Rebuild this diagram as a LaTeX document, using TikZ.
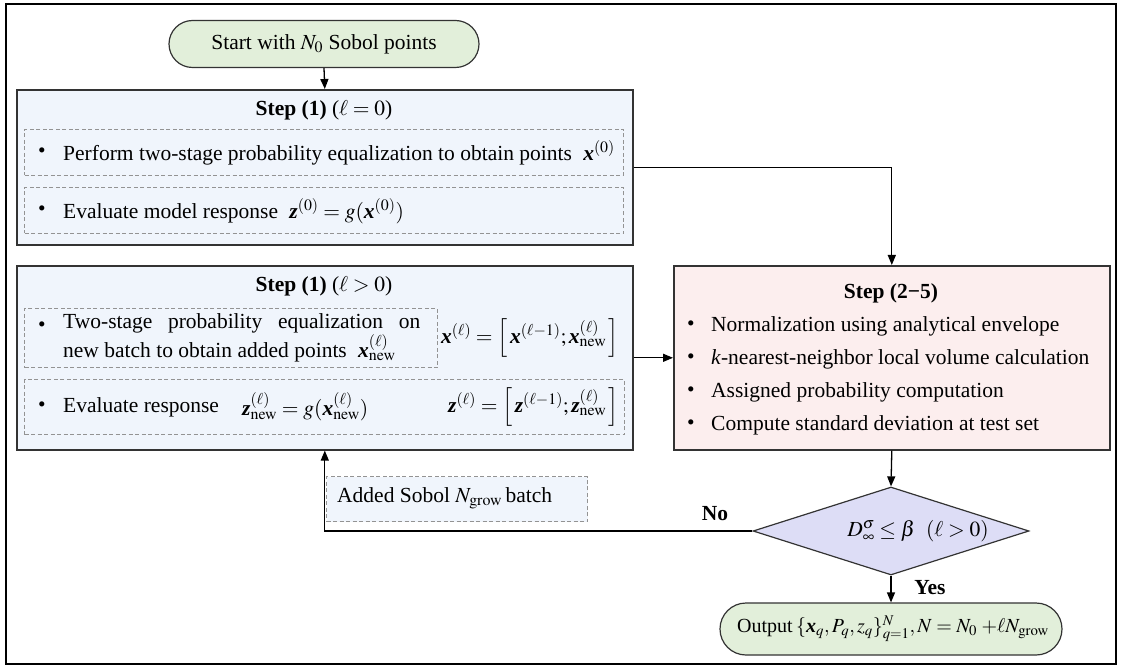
\documentclass[tikz,border=0pt]{standalone}
\usepackage{amsmath}
\usepackage{mathptmx}
\usepackage[no-math]{fontspec}
\setmainfont{Liberation Serif}
\usetikzlibrary{arrows.meta,shapes.geometric,shapes.misc}
\definecolor{cgreen}{HTML}{E2EFDA}
\definecolor{cblue}{HTML}{F0F5FC}
\definecolor{cpink}{HTML}{FCEEEE}
\definecolor{clav}{HTML}{DDDDF6}
\definecolor{cedge}{HTML}{333333}
\newcommand{\bx}{\text{\bfseries\itshape x}}
\newcommand{\bz}{\text{\bfseries\itshape z}}
\newcommand{\nw}{\mathrm{new}}
\newcommand{\fs}{\fontsize{21.5}{26}\selectfont}
\tikzset{
  every node/.style={font=\fs, inner sep=0pt},
  frame/.style={draw=black, line width=1.6pt},
  bigbox/.style={draw=cedge, line width=1.6pt, anchor=north west, inner sep=0pt},
  dbox/.style={draw=gray!85, line width=1pt, dash pattern=on 4pt off 2.5pt, anchor=north west, inner sep=0pt},
  term/.style={rounded rectangle, draw=cedge, line width=1.2pt, fill=cgreen},
  arr/.style={-{Triangle[length=10pt,width=8pt]}, line width=1.3pt, draw=black},
  bul/.style={anchor=center},
  txt/.style={anchor=west},
}
\begin{document}
\begin{tikzpicture}[x=1pt,y=-1pt]
\useasboundingbox (0,0) rectangle (1121,668);
\draw[frame] (6,4) rectangle (1116,664);

% start
\node[term, minimum width=310pt, minimum height=47pt] (start) at (324,44) {Start with $N_0$ Sobol points};

% step (1) l=0
\node[bigbox, fill=cblue, minimum width=616pt, minimum height=155pt] (s0) at (16,89) {};
\node (s0t) at (324,110) {\textbf{Step (1)} ($\ell = 0$)};
\node[dbox, minimum width=599pt, minimum height=46pt] (d1) at (24,129) {};
\node[bul] (b1) at (42,153) {\textbullet};
\node[txt] (t1) at (63,153) {Perform two-stage probability equalization to obtain points \;$\bx^{(0)}$};
\node[dbox, minimum width=599pt, minimum height=46pt] (d2) at (24,187) {};
\node[bul] (b2) at (42,211) {\textbullet};
\node[txt] (t2) at (63,211) {Evaluate model response \;$\bz^{(0)} = g(\bx^{(0)})$};

% step (1) l>0
\node[bigbox, fill=cblue, minimum width=616pt, minimum height=184pt] (s1) at (16,265) {};
\node (s1t) at (324,286) {\textbf{Step (1)} ($\ell > 0$)};
\node[dbox, minimum width=413pt, minimum height=59pt] (d3) at (24,308) {};
\node[bul] (b3) at (42,327) {\textbullet};
\node[anchor=west] (t3) at (63,338) {\parbox{357pt}{\fs\baselineskip=22pt Two-stage probability equalization on\linebreak new batch to obtain added points \;$\bx^{(\ell)}_{\nw}$}};
\node[anchor=east] (f3) at (619,338) {$\bx^{(\ell)} = \left[\, \bx^{(\ell-1)}; \bx^{(\ell)}_{\nw} \,\right]$};
\node[dbox, minimum width=600pt, minimum height=55pt] (d4) at (24,379) {};
\node[bul] (b4) at (42,407) {\textbullet};
\node[txt] (t4) at (63,407) {Evaluate response};
\node[txt] (f4) at (242,407) {$\bz^{(\ell)}_{\nw} = g(\bx^{(\ell)}_{\nw})$};
\node[anchor=east] (f5) at (619,407) {$\bz^{(\ell)} = \left[\, \bz^{(\ell-1)}; \bz^{(\ell)}_{\nw} \,\right]$};

% step 2-5
\node[bigbox, fill=cpink, minimum width=436pt, minimum height=184pt] (s25) at (673,265) {};
\node (s25t) at (891,293) {\textbf{Step (2\char"2212 5)}};
\node[bul] (c1) at (691,326) {\textbullet};
\node[txt] (u1) at (711,326) {Normalization using analytical envelope};
\node[bul] (c2) at (691,359) {\textbullet};
\node[txt] (u2) at (711,359) {\textit{k}-nearest-neighbor local volume calculation};
\node[bul] (c3) at (691,392) {\textbullet};
\node[txt] (u3) at (711,392) {Assigned probability computation};
\node[bul] (c4) at (691,425) {\textbullet};
\node[txt] (u4) at (711,425) {Compute standard deviation at test set};

% decision
\node[diamond, aspect=3.14, draw=cedge, line width=1.2pt, fill=clav, minimum width=276pt, minimum height=88pt] (dia) at (891,531) {};
\node (diat) at (918,531) {$D^{\sigma}_{\infty} \le \beta\ \ (\ell > 0)$};

% output
\node[term, minimum width=342pt, minimum height=52pt] (out) at (891,629) {};
\node (outt) at (893,629) {\fontsize{20}{24}\selectfont Output\,$\{\bx_q, P_q, z_q\}_{q=1}^{N}, N = N_0\;{+}\ell N_{\mathrm{grow}}$};

% added sobol
\node[dbox, fill=cblue, minimum width=261pt, minimum height=45pt] (add) at (326,476) {};
\node[txt] (addt) at (337,498) {Added Sobol $N_{\mathrm{grow}}$\,batch};

% connectors
\draw[arr] (start.south) -- (s0.north);
\draw[arr] (s0.east) -| (s25.north);
\draw[arr] (s1.east) -- (s25.west);
\draw[arr] (s25.south) -- (dia.north);
\draw[arr] (dia.south) -- (out.north);
\draw[arr] (dia.west) -| (s1.south);

\node[font=\fs\bfseries] (no) at (715,514) {No};
\node[font=\fs\bfseries] (yes) at (930,588) {Yes};
\end{tikzpicture}
\end{document}
